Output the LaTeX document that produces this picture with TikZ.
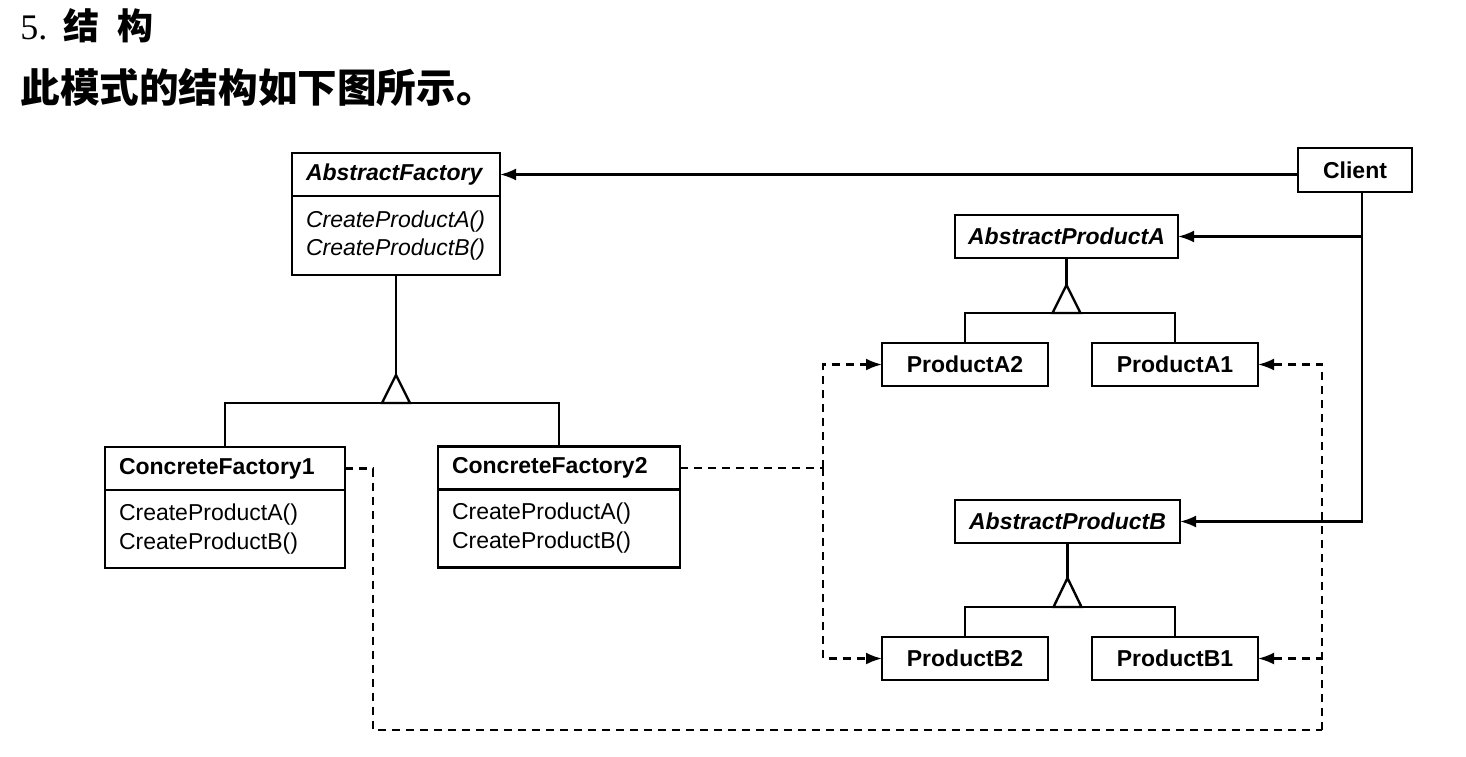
\documentclass[tikz,border=0pt]{standalone}
\usepackage{fontspec}
\setmainfont{Liberation Sans}
\newfontfamily\cjk{Noto Sans CJK SC}
\newfontfamily\numfont{Liberation Serif}
\usetikzlibrary{arrows.meta,positioning}

\begin{document}
\begin{tikzpicture}[x=0.5pt,y=-0.5pt,
        hdr/.style={draw,line width=1.3pt,outer sep=0pt,minimum height=21.5pt,inner xsep=7pt,inner ysep=2pt,align=left,font=\fontsize{11.5}{14}\selectfont\bfseries},
        body/.style={draw,line width=1.3pt,outer sep=0pt,inner xsep=7pt,align=left,font=\fontsize{11.5}{14.5}\selectfont},
        prod/.style={draw,line width=1.3pt,outer sep=0pt,minimum height=21.5pt,inner sep=2pt,font=\fontsize{11.5}{14}\selectfont\bfseries},
        tip/.style={-{Latex[length=8pt,width=6pt]}},
        gen/.style={draw=black,line width=1.2pt},
        dep/.style={draw=black,line width=1.2pt,dash pattern=on 4pt off 3pt}]
    \useasboundingbox (0,0) rectangle (1466,756);

    % heading
    \node[anchor=base west,inner sep=0] (secNum) at (20,39) {\fontsize{18}{20}\selectfont\numfont 5.\hspace{0.45em}\cjk\bfseries 结\hspace{0.5em}构};
    \node[anchor=base west,inner sep=0] (secText) at (20,102) {\fontsize{19.8}{22}\selectfont\cjk\bfseries 此模式的结构如下图所示。};

    % factories
    \node[hdr,minimum width=104pt,text width=90pt,font=\fontsize{11.5}{14}\selectfont\bfseries\itshape] (afHead) at (396,174.5) {AbstractFactory};
    \node[body,below=0pt of afHead,minimum width=104pt,text width=90pt,minimum height=39.5pt,font=\fontsize{11.5}{14}\selectfont\itshape] (afBody) {CreateProductA()\\CreateProductB()};

    \node[hdr,minimum width=120pt,text width=106pt] (cf1Head) at (225,468.5) {ConcreteFactory1};
    \node[body,below=0pt of cf1Head,minimum width=120pt,text width=106pt,minimum height=39pt] (cf1Body) {CreateProductA()\\CreateProductB()};

    \node[hdr,minimum width=121pt,text width=107pt] (cf2Head) at (559,468) {ConcreteFactory2};
    \node[body,below=0pt of cf2Head,minimum width=121pt,text width=107pt,minimum height=39pt] (cf2Body) {CreateProductA()\\CreateProductB()};

    % client and products
    \begin{scope}[every node/.style={prod}]
        \node[minimum width=57pt,minimum height=22pt] (client) at (1355,170) {Client};
        \node[minimum width=111.5pt,font=\fontsize{11.5}{14}\selectfont\bfseries\itshape] (apA) at (1066.5,236.5) {AbstractProductA};
        \node[minimum width=112.5pt,font=\fontsize{11.5}{14}\selectfont\bfseries\itshape] (apB) at (1067.5,521.5) {AbstractProductB};
        \node[minimum width=83pt] (pa2) at (965,364.5) {ProductA2};
        \node[minimum width=83pt] (pa1) at (1175,364.5) {ProductA1};
        \node[minimum width=83pt] (pb2) at (965,658.5) {ProductB2};
        \node[minimum width=83pt] (pb1) at (1175,658.5) {ProductB1};
    \end{scope}

    % inheritance
    \coordinate (afTri) at (396,375);
    \coordinate (afBar) at (396,403);
    \coordinate (apATri) at (1066.5,285);
    \coordinate (apABar) at (1066.5,313);
    \coordinate (apBTri) at (1067.5,578);
    \coordinate (apBBar) at (1067.5,607);
    \path[gen] (afBody) edge (afTri);
    \path[gen] (apA) edge (apATri);
    \path[gen] (apB) edge (apBTri);
    \draw[gen] (cf1Head.north) |- (afBar) -| (cf2Head.north);
    \draw[gen] (pa2.north) |- (apABar) -| (pa1.north);
    \draw[gen] (pb2.north) |- (apBBar) -| (pb1.north);
    \draw[gen,fill=white] (afTri) -- ++(-14,28) -- ++(28,0) -- cycle;
    \draw[gen,fill=white] (apATri) -- ++(-14,28) -- ++(28,0) -- cycle;
    \draw[gen,fill=white] (apBTri) -- ++(-14,29) -- ++(28,0) -- cycle;

    % client uses
    \coordinate (cliDrop) at (1362,192);
    \draw[gen,tip] (client.west |- afHead.east) -- (afHead.east);
    \draw[gen,tip] (cliDrop |- apA.east) -- (apA.east);
    \draw[gen,tip] (cliDrop) |- (apB.east);

    % creates
    \coordinate (cf2Join) at (823,468);
    \coordinate (loopL) at (373,730);
    \coordinate (loopR) at (1322,730);
    \path[dep] (cf2Head.east) edge (cf2Join);
    \draw[dep,tip] (cf2Join) |- (pa2.west);
    \draw[dep,tip] (cf2Join) |- (pb2.west);
    \draw[dep] (cf1Head.east) -| (loopL) -- (loopR);
    \draw[dep,tip] (loopR) |- (pa1.east);
    \draw[dep,tip] (loopR) |- (pb1.east);
\end{tikzpicture}
\end{document}
